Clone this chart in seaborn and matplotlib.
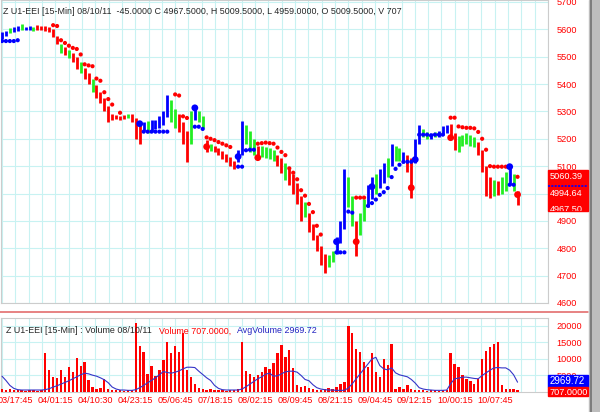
import numpy as np
import pandas as pd
import seaborn as sns
import matplotlib
matplotlib.use("Agg")
import matplotlib.pyplot as plt
from matplotlib.patches import Rectangle
from matplotlib.lines import Line2D
from matplotlib.transforms import Affine2D

na = np.nan

# 15-min bars
bar_low = [5565, 5575, 5585, 5590, 5595, 5598, 5596, 5598, 5595, 5598,
           5596, 5595, 5590, 5570, 5545, 5515, 5505, 5495, 5480, 5455,
           5440, 5420, 5400, 5370, 5350, 5330, 5300, 5260, 5270, 5272,
           5270, 5272, 5275, 5260, 5200, 5180, 5230, 5220, 5225, 5235,
           5240, 5250, 5280, 5260, 5240, 5225, 5180, 5115, 5180, 5270,
           5260, 5240, 5150, 5155, 5150, 5140, 5125, 5115, 5100, 5090,
           5115, 5140, 5180, 5150, 5140, 5130, 5135, 5130, 5125, 5120,
           5100, 5075, 5050, 5030, 5000, 4960, 4900, 4915, 4860, 4830,
           4790, 4740, 4710, 4730, 4750, 4780, 4820, 4870, 4950, 4880,
           4770, 4850, 4900, 4950, 4980, 5000, 5020, 5040, 5060, 5100,
           5120, 5120, 5110, 5080, 4985, 5110, 5180, 5205, 5200, 5200,
           5205, 5205, 5215, 5220, 5200, 5160, 5150, 5175, 5180, 5175,
           5170, 5140, 5080, 4990, 4985, 4990, 4995, 5000, 5010, 5030,
           5010, 4959]
bar_high = [5590, 5595, 5605, 5608, 5612, 5620, 5610, 5612, 5610, 5615,
            5612, 5612, 5608, 5600, 5575, 5545, 5535, 5525, 5515, 5500,
            5480, 5460, 5440, 5420, 5395, 5370, 5350, 5320, 5290, 5288,
            5285, 5286, 5290, 5290, 5275, 5250, 5260, 5265, 5270, 5270,
            5285, 5300, 5360, 5340, 5310, 5290, 5260, 5230, 5300, 5320,
            5300, 5285, 5195, 5180, 5175, 5165, 5155, 5145, 5135, 5120,
            5160, 5265, 5250, 5230, 5200, 5175, 5175, 5170, 5165, 5160,
            5140, 5130, 5110, 5090, 5070, 5040, 4990, 4970, 4930, 4890,
            4850, 4810, 4780, 4775, 4790, 4840, 4900, 5090, 5060, 4990,
            4900, 4930, 4980, 5030, 5060, 5070, 5090, 5110, 5130, 5180,
            5175, 5165, 5150, 5140, 5130, 5200, 5250, 5235, 5225, 5222,
            5225, 5230, 5245, 5250, 5255, 5220, 5210, 5215, 5220, 5215,
            5205, 5190, 5160, 5100, 5060, 5050, 5045, 5060, 5080, 5105,
            5070, 5010]
bar_code = list("bbgbbgbbgr" "rrrrrgrgrr" "grrgrrrrrr" "rrgrrrbgbb"
                "bbbggrrrgb" "ggrgrrrrrr" "bbgggrgggg" "rrgrrrrgrr"
                "rrrggbbbgg" "rggbbgbbgb" "ggbrrbbggb" "gbbbrrgggg"
                "grrrrgrggb" "gr")

# stop-and-reverse dots
sar_value = [5557, 5557, 5557, 5557, 5560, na, na, na, na, na,
             na, na, na, 5615, 5612, 5560, 5550, 5540, 5532, 5528,
             5508, 5472, 5468, 5465, 5420, 5412, 5370, 5345, 5325, na,
             5295, na, na, na, na, na, 5226, 5226, 5226, 5226,
             5226, 5226, 5226, na, 5362, 5358, 5282, 5276, na, 5244,
             5244, 5236, 5205, 5200, 5195, 5188, 5182, 5176, 5170, na,
             5098, 5098, 5158, 5160, 5160, 5182, 5184, 5186, 5184, 5182,
             5168, 5152, 5140, 5092, 5076, 5052, 5012, 4992, 4962, 4932,
             4882, 4850, na, na, na, 4785, 4785, 4785, 4934, 4930,
             4985, 4985, 4985, 4955, 4965, 4978, 4995, 5005, 5020, 5060,
             5090, 5105, 5116, 5116, 5116, na, 5215, 5215, 5215, 5212,
             5215, 5215, 5215, na, 5277, 5277, 5245, 5242, 5240, 5240,
             5238, 5225, 5200, 5160, 5100, 5098, 5098, 5098, 5098, 5032,
             5032, 5061]
sar_code = list("bbbbbbbbbb" "rrrrrrrrrr" "rrrrrrrrrr" "rrrrrrbbbb"
                "bbbbrrrrbb" "bbrrrrrrrr" "bbbbbrrrrr" "rrrrrrrrrr"
                "rrrrrbbbbb" "rrrbbbbbbb" "bbbbbbbbbb" "bbbbrrrrrr"
                "rrrrrrrrrb" "br")

# entry / exit markers
sig_bar = [35, 49, 52, 60, 65, 85, 90, 94, 104, 105, 114, 129, 131]
sig_price = [5255, 5313, 5171, 5135, 5131, 4824, 4824, 5025, 5021, 5124, 5204, 5098, 4996]
sig_code = list("bbrbrbrbrbrbr")

volume = [800, 600, 900, 700, 500, 600, 400, 500, 600, 400,
          500, 11800, 6700, 4600, 4200, 6700, 4500, 7500, 6000, 10300,
          8000, 9000, 3600, 1500, 1000, 1200, 4000, 800, 600, 500,
          700, 400, 600, 500, 21000, 14000, 12000, 5500, 8000, 4800,
          6700, 9700, 15000, 11700, 14000, 12000, 18000, 6700, 4600, 2500,
          1200, 900, 700, 1000, 600, 500, 700, 400, 600, 500,
          800, 15000, 6500, 5600, 4600, 5000, 6200, 7700, 7000, 8700,
          11700, 14200, 10700, 12700, 7200, 2200, 1500, 1800, 1200, 900,
          600, 500, 800, 1200, 900, 1500, 2500, 3000, 20000, 18000,
          13000, 12000, 9000, 7700, 11800, 6000, 4600, 10000, 8200, 14500,
          1000, 1500, 800, 2100, 900, 600, 500, 700, 400, 600,
          500, 400, 600, 500, 11800, 8600, 7500, 5000, 4000, 3400,
          2500, 3800, 10000, 12400, 13500, 14500, 15000, 2000, 1000, 800,
          900, 707]
avg_volume = [4800, 3500, 2000, 1100, 700, 600, 600, 600, 600, 600,
              600, 700, 1000, 1500, 1900, 2400, 2900, 3400, 4000, 4600,
              5200, 5700, 5500, 5100, 4800, 4300, 3700, 2800, 1500, 900,
              600, 600, 500, 500, 700, 1300, 2000, 2800, 3500, 4300,
              5200, 6200, 5900, 5700, 6000, 6400, 7000, 7500, 7500, 7400,
              6300, 5300, 4300, 3500, 2000, 1100, 700, 600, 600, 600,
              600, 900, 1600, 2400, 3200, 4000, 4600, 5400, 5700, 4800,
              4900, 5500, 6100, 6300, 6300, 6000, 5000, 3800, 3400, 2200,
              1300, 900, 700, 600, 600, 500, 500, 500, 1200, 2500,
              4000, 5500, 7000, 8500, 10000, 10500, 8000, 7000, 6700, 7300,
              5800, 5200, 4900, 4600, 3800, 2700, 1300, 900, 700, 600,
              500, 500, 500, 600, 2500, 4000, 4200, 4500, 4500, 4300,
              4100, 4000, 5000, 5800, 6600, 7300, 7400, 7300, 7300, 6600,
              5200, 2970]

time_labels = ["03/17:45", "04/01:15", "04/10:30", "04/23:15", "05/06:45", "07/18:15",
               "08/02:15", "08/09:45", "08/21:15", "09/04:45", "09/12:15", "10/00:15",
               "10/07:45"]
price_ticks = [4600, 4700, 4800, 4900, 5000, 5100, 5200, 5300, 5400, 5500, 5600, 5700]
# 5000 sits under the last-price box in the screenshot
price_labels = ["4600", "4700", "4800", "4900", "", "5100", "5200", "5300", "5400",
                "5500", "5600", "5700"]
volume_ticks = [5000, 10000, 15000, 20000]

PALETTE = {"r": "#ff0000", "g": "#22ee22", "b": "#0000ff"}
GRID = "#c8f2f2"
RED = "#ff0000"
FS = 6.6

bars = pd.DataFrame({"bar": np.arange(len(bar_low)), "low": bar_low, "high": bar_high,
                     "code": bar_code, "sar": sar_value, "sar_code": sar_code,
                     "volume": volume, "avg": avg_volume})
sar = bars.dropna(subset=["sar"])
signals = pd.DataFrame({"bar": sig_bar, "price": sig_price, "code": sig_code})

tick_pos = [3.4 + 10.15 * k for k in range(len(time_labels))]
grid_pos = [3.4 + 10.15 / 3 * k for k in range(-1, 41)]

sns.set_style("white")
plt.rcParams["font.family"] = ["Liberation Sans", "DejaVu Sans"]

fig = plt.figure(figsize=(6, 4.12), dpi=100)
pix = Affine2D().scale(1 / 600, -1 / 412).translate(0, 1) + fig.transFigure

ax = fig.add_axes([1 / 600, 1 - 303 / 412, 547 / 600, 303 / 412])
ax2 = fig.add_axes([1 / 600, 1 - 392 / 412, 547 / 600, 74 / 412])

# price panel
ax.vlines(bars["bar"], bars["low"], bars["high"], colors=bars["code"].map(PALETTE), lw=2.0, zorder=3)
sns.scatterplot(data=sar, x="bar", y="sar", hue="sar_code", palette=PALETTE, s=9,
                linewidth=0, legend=False, ax=ax, zorder=4)
sns.scatterplot(data=signals, x="bar", y="price", hue="code", palette=PALETTE, s=24,
                linewidth=0, legend=False, ax=ax, zorder=5)
ax.set_xlim(-0.25, 136.5)
ax.set_ylim(4600, 5707)
ax.set_xticks(grid_pos)
ax.set_yticks(price_ticks)
ax.set_yticklabels(price_labels)
ax.yaxis.tick_right()
ax.tick_params(axis="x", length=0, labelbottom=False)
ax.tick_params(axis="y", length=0, pad=6, labelcolor=RED, labelsize=FS)
ax.grid(True, color=GRID, lw=0.8)
ax.set_xlabel("")
ax.set_ylabel("")

# volume panel
ax2.bar(bars["bar"], bars["volume"], width=0.6, color=RED, linewidth=0, zorder=3)
sns.lineplot(data=bars, x="bar", y="avg", color="#3535c8", lw=0.8, ax=ax2, zorder=4)
ax2.set_xlim(-0.25, 136.5)
ax2.set_ylim(0, 22400)
ax2.set_xticks(grid_pos, minor=True)
ax2.set_xticks(tick_pos)
ax2.set_xticklabels(time_labels)
ax2.set_yticks(volume_ticks)
ax2.yaxis.tick_right()
ax2.tick_params(axis="x", which="both", length=0, pad=3, labelcolor=RED, labelsize=FS)
ax2.tick_params(axis="y", length=0, pad=6, labelcolor=RED, labelsize=FS)
ax2.grid(True, which="both", color=GRID, lw=0.8)
ax2.set_xlabel("")
ax2.set_ylabel("")

for a in (ax, ax2):
    for s in a.spines.values():
        s.set_color("#cccccc")
        s.set_linewidth(0.8)

# headers
fig.text(3, 12, "Z U1-EEI [15-Min] 08/10/11  -45.0000 C 4967.5000, H 5009.5000, "
         "L 4959.0000, O 5009.5000, V 707", transform=pix, fontsize=6.4, va="center")
fig.text(6, 331, "Z U1-EEI [15-Min] : Volume 08/10/11", transform=pix, fontsize=6.4, va="center")
fig.text(159, 331, "Volume 707.0000,", transform=pix, fontsize=6.4, va="center", color=RED)
fig.text(237, 331, "AvgVolume 2969.72", transform=pix, fontsize=6.4, va="center", color="#2020c0")

# panel divider and window edge
fig.add_artist(Line2D([0, 588], [312.5, 312.5], transform=pix, color="#e06060", lw=1.1))
fig.add_artist(Rectangle((589, 0), 11, 412, transform=pix, color="#bdbdbd", zorder=5))
fig.add_artist(Line2D([590.5, 590.5], [0, 412], transform=pix, color="#7c7c7c", lw=1.4, zorder=6))

# last-value boxes
box = Rectangle((548, 170), 40, 41, transform=pix, color=RED, zorder=5)
fig.add_artist(box)
fig.add_artist(Line2D([548, 588], [186, 186], transform=pix, color="#0000ff", lw=1.2,
                      dashes=(1.2, 0.8), zorder=6))
for y, label in [(176.5, "5060.39"), (194, "4994.64"), (210, "4967.50")]:
    t = fig.text(550, y, label, transform=pix, fontsize=FS, va="center", color="white", zorder=7)
    t.set_clip_path(box)

vbox = Rectangle((548, 375), 40, 12, transform=pix, color="#0000ff", zorder=5)
rbox = Rectangle((548, 387), 40, 9, transform=pix, color=RED, zorder=5)
fig.add_artist(vbox)
fig.add_artist(rbox)
t = fig.text(550, 381, "2969.72", transform=pix, fontsize=FS + 0.4, va="center", color="white", zorder=7)
t.set_clip_path(vbox)
t = fig.text(550, 393, "707.0000", transform=pix, fontsize=FS, va="center", color="white", zorder=7)
t.set_clip_path(rbox)

fig.savefig("out.png", dpi=100)
